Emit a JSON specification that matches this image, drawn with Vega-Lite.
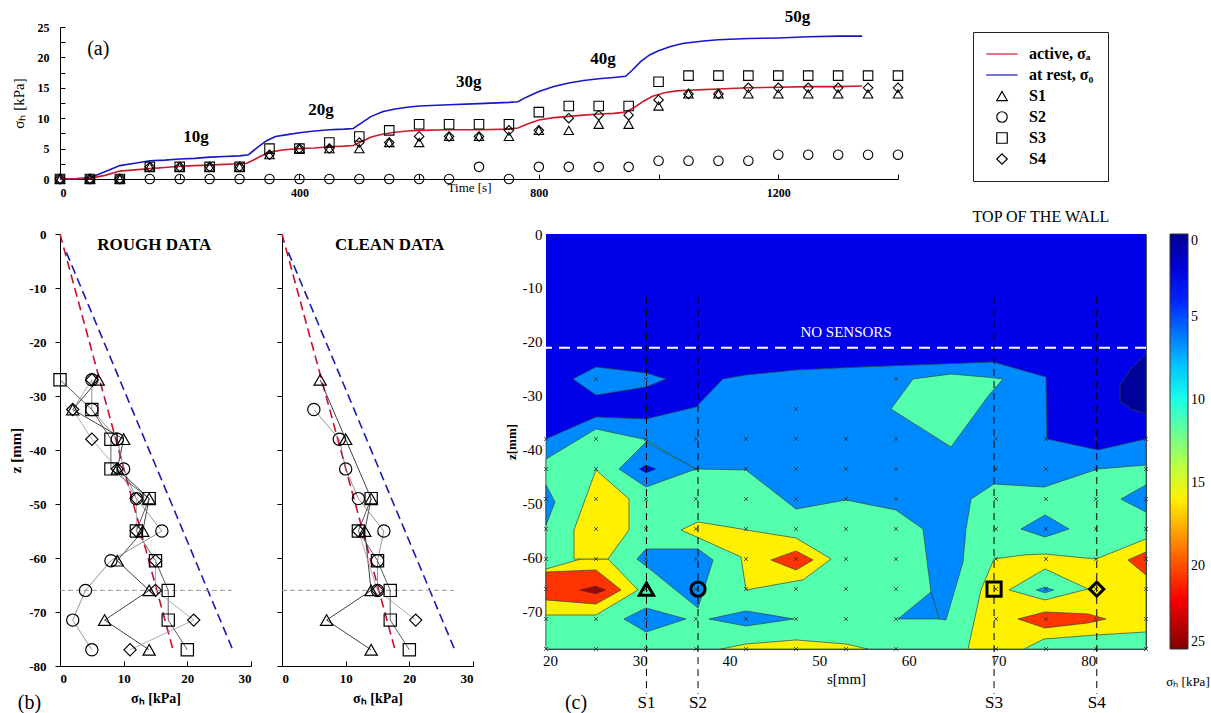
{
"$schema":"https://vega.github.io/schema/vega-lite/v6.json",
"background":"white",
"padding":{"left":8,"top":8,"right":2,"bottom":0},
"bounds":"flush",
"spacing":55,
"config":{
 "font":"Liberation Serif",
 "view":{"stroke":null},
 "axis":{"grid":false,"domainColor":"#000","tickColor":"#000","labelColor":"#000","titleColor":"#000","labelFont":"Liberation Serif","titleFont":"Liberation Serif","labelOverlap":false},
 "legend":{"labelFont":"Liberation Serif","titleFont":"Liberation Serif","labelColor":"#000","titleColor":"#000"},
 "text":{"font":"Liberation Serif","color":"#000"}
},
"resolve":{"scale":{"color":"independent","shape":"independent"},"legend":{"color":"independent","shape":"independent"}},
"datasets":{
 "aL":[
  {"k":"a","t":0,"v":0},{"k":"a","t":25,"v":0.05},{"k":"a","t":50,"v":0.1},{"k":"a","t":75,"v":0.6},{"k":"a","t":100,"v":1.3},{"k":"a","t":125,"v":1.5},{"k":"a","t":150,"v":1.7},{"k":"a","t":175,"v":1.9},{"k":"a","t":200,"v":2.1},{"k":"a","t":225,"v":2.2},{"k":"a","t":250,"v":2.3},{"k":"a","t":275,"v":2.4},{"k":"a","t":300,"v":2.5},{"k":"a","t":312,"v":2.6},{"k":"a","t":325,"v":3.2},{"k":"a","t":340,"v":4.0},{"k":"a","t":355,"v":4.5},{"k":"a","t":375,"v":4.8},{"k":"a","t":400,"v":5.0},{"k":"a","t":425,"v":5.1},{"k":"a","t":450,"v":5.3},{"k":"a","t":475,"v":5.4},{"k":"a","t":490,"v":5.5},{"k":"a","t":505,"v":6.2},{"k":"a","t":520,"v":6.9},{"k":"a","t":540,"v":7.4},{"k":"a","t":560,"v":7.7},{"k":"a","t":580,"v":7.9},{"k":"a","t":600,"v":8.0},{"k":"a","t":650,"v":8.1},{"k":"a","t":700,"v":8.1},{"k":"a","t":750,"v":8.2},{"k":"a","t":765,"v":8.4},{"k":"a","t":780,"v":9.0},{"k":"a","t":800,"v":9.7},{"k":"a","t":825,"v":10.1},{"k":"a","t":850,"v":10.3},{"k":"a","t":875,"v":10.5},{"k":"a","t":900,"v":10.7},{"k":"a","t":925,"v":10.8},{"k":"a","t":945,"v":11.0},{"k":"a","t":960,"v":11.8},{"k":"a","t":975,"v":12.8},{"k":"a","t":990,"v":13.6},{"k":"a","t":1010,"v":14.2},{"k":"a","t":1030,"v":14.5},{"k":"a","t":1050,"v":14.6},{"k":"a","t":1075,"v":14.7},{"k":"a","t":1100,"v":14.8},{"k":"a","t":1150,"v":15.0},{"k":"a","t":1200,"v":15.1},{"k":"a","t":1250,"v":15.2},{"k":"a","t":1300,"v":15.2},{"k":"a","t":1340,"v":15.3},
  {"k":"r","t":0,"v":0},{"k":"r","t":25,"v":0.05},{"k":"r","t":50,"v":0.2},{"k":"r","t":75,"v":1.2},{"k":"r","t":100,"v":2.2},{"k":"r","t":125,"v":2.6},{"k":"r","t":150,"v":3.0},{"k":"r","t":175,"v":3.1},{"k":"r","t":200,"v":3.3},{"k":"r","t":225,"v":3.4},{"k":"r","t":250,"v":3.6},{"k":"r","t":275,"v":3.7},{"k":"r","t":300,"v":3.8},{"k":"r","t":315,"v":4.0},{"k":"r","t":330,"v":5.2},{"k":"r","t":345,"v":6.3},{"k":"r","t":360,"v":7.0},{"k":"r","t":380,"v":7.3},{"k":"r","t":400,"v":7.6},{"k":"r","t":425,"v":7.9},{"k":"r","t":450,"v":8.1},{"k":"r","t":475,"v":8.2},{"k":"r","t":490,"v":8.3},{"k":"r","t":505,"v":9.3},{"k":"r","t":520,"v":10.3},{"k":"r","t":540,"v":11.1},{"k":"r","t":560,"v":11.5},{"k":"r","t":580,"v":11.8},{"k":"r","t":600,"v":12.0},{"k":"r","t":650,"v":12.2},{"k":"r","t":700,"v":12.4},{"k":"r","t":750,"v":12.6},{"k":"r","t":765,"v":12.7},{"k":"r","t":780,"v":13.5},{"k":"r","t":800,"v":14.4},{"k":"r","t":825,"v":15.2},{"k":"r","t":850,"v":15.8},{"k":"r","t":875,"v":16.2},{"k":"r","t":900,"v":16.5},{"k":"r","t":925,"v":16.7},{"k":"r","t":945,"v":16.9},{"k":"r","t":955,"v":17.8},{"k":"r","t":970,"v":19.3},{"k":"r","t":985,"v":20.4},{"k":"r","t":1000,"v":21.1},{"k":"r","t":1020,"v":21.8},{"k":"r","t":1040,"v":22.3},{"k":"r","t":1075,"v":22.7},{"k":"r","t":1100,"v":22.9},{"k":"r","t":1150,"v":23.1},{"k":"r","t":1200,"v":23.2},{"k":"r","t":1250,"v":23.4},{"k":"r","t":1300,"v":23.5},{"k":"r","t":1340,"v":23.5}
 ],
 "aP":[
  {"s":"S1","t":0,"v":0},{"s":"S1","t":50,"v":0},{"s":"S1","t":100,"v":0},{"s":"S1","t":150,"v":2},{"s":"S1","t":200,"v":2},{"s":"S1","t":250,"v":2},{"s":"S1","t":300,"v":2},{"s":"S1","t":350,"v":4},{"s":"S1","t":400,"v":5},{"s":"S1","t":450,"v":5},{"s":"S1","t":500,"v":5},{"s":"S1","t":550,"v":6},{"s":"S1","t":600,"v":6},{"s":"S1","t":650,"v":7},{"s":"S1","t":700,"v":7},{"s":"S1","t":750,"v":7},{"s":"S1","t":800,"v":8},{"s":"S1","t":850,"v":8},{"s":"S1","t":900,"v":9},{"s":"S1","t":950,"v":9},{"s":"S1","t":1000,"v":12},{"s":"S1","t":1050,"v":14},{"s":"S1","t":1100,"v":14},{"s":"S1","t":1150,"v":14},{"s":"S1","t":1200,"v":14},{"s":"S1","t":1250,"v":14},{"s":"S1","t":1300,"v":14},{"s":"S1","t":1350,"v":14},{"s":"S1","t":1400,"v":14},
  {"s":"S2","t":0,"v":0},{"s":"S2","t":50,"v":0},{"s":"S2","t":100,"v":0},{"s":"S2","t":150,"v":0},{"s":"S2","t":200,"v":0},{"s":"S2","t":250,"v":0},{"s":"S2","t":300,"v":0},{"s":"S2","t":350,"v":0},{"s":"S2","t":400,"v":0},{"s":"S2","t":450,"v":0},{"s":"S2","t":500,"v":0},{"s":"S2","t":550,"v":0},{"s":"S2","t":600,"v":0},{"s":"S2","t":650,"v":0},{"s":"S2","t":700,"v":2},{"s":"S2","t":750,"v":0},{"s":"S2","t":800,"v":2},{"s":"S2","t":850,"v":2},{"s":"S2","t":900,"v":2},{"s":"S2","t":950,"v":2},{"s":"S2","t":1000,"v":3},{"s":"S2","t":1050,"v":3},{"s":"S2","t":1100,"v":3},{"s":"S2","t":1150,"v":3},{"s":"S2","t":1200,"v":4},{"s":"S2","t":1250,"v":4},{"s":"S2","t":1300,"v":4},{"s":"S2","t":1350,"v":4},{"s":"S2","t":1400,"v":4},
  {"s":"S3","t":0,"v":0},{"s":"S3","t":50,"v":0},{"s":"S3","t":100,"v":0},{"s":"S3","t":150,"v":2},{"s":"S3","t":200,"v":2},{"s":"S3","t":250,"v":2},{"s":"S3","t":300,"v":2},{"s":"S3","t":350,"v":5},{"s":"S3","t":400,"v":5},{"s":"S3","t":450,"v":6},{"s":"S3","t":500,"v":7},{"s":"S3","t":550,"v":8},{"s":"S3","t":600,"v":9},{"s":"S3","t":650,"v":9},{"s":"S3","t":700,"v":9},{"s":"S3","t":750,"v":9},{"s":"S3","t":800,"v":11},{"s":"S3","t":850,"v":12},{"s":"S3","t":900,"v":12},{"s":"S3","t":950,"v":12},{"s":"S3","t":1000,"v":16},{"s":"S3","t":1050,"v":17},{"s":"S3","t":1100,"v":17},{"s":"S3","t":1150,"v":17},{"s":"S3","t":1200,"v":17},{"s":"S3","t":1250,"v":17},{"s":"S3","t":1300,"v":17},{"s":"S3","t":1350,"v":17},{"s":"S3","t":1400,"v":17},
  {"s":"S4","t":0,"v":0},{"s":"S4","t":50,"v":0},{"s":"S4","t":100,"v":0},{"s":"S4","t":150,"v":2},{"s":"S4","t":200,"v":2},{"s":"S4","t":250,"v":2},{"s":"S4","t":300,"v":2},{"s":"S4","t":350,"v":4},{"s":"S4","t":400,"v":5},{"s":"S4","t":450,"v":5},{"s":"S4","t":500,"v":6},{"s":"S4","t":550,"v":6},{"s":"S4","t":600,"v":7},{"s":"S4","t":650,"v":7},{"s":"S4","t":700,"v":7},{"s":"S4","t":750,"v":8},{"s":"S4","t":800,"v":8},{"s":"S4","t":850,"v":10},{"s":"S4","t":900,"v":10.5},{"s":"S4","t":950,"v":10.5},{"s":"S4","t":1000,"v":13},{"s":"S4","t":1050,"v":14},{"s":"S4","t":1100,"v":14},{"s":"S4","t":1150,"v":15},{"s":"S4","t":1200,"v":15},{"s":"S4","t":1250,"v":15},{"s":"S4","t":1300,"v":15},{"s":"S4","t":1350,"v":15},{"s":"S4","t":1400,"v":15}
 ],
 "aT":[{"t":227,"v":6.9,"txt":"10g"},{"t":436,"v":11.3,"txt":"20g"},{"t":683,"v":16,"txt":"30g"},{"t":907,"v":19.7,"txt":"40g"},{"t":1232,"v":26.6,"txt":"50g"}],
 "bT":[{"k":"a","x":0,"z":0},{"k":"a","x":17.8,"z":-77.2},{"k":"r","x":1.0,"z":-3.4},{"k":"r","x":27.2,"z":-77.2},{"k":"g","x":0,"z":-66},{"k":"g","x":27,"z":-66}],
 "bR":[
  {"s":"S1","x":6,"z":-27},{"s":"S1","x":2,"z":-32.5},{"s":"S1","x":10,"z":-38},{"s":"S1","x":9,"z":-43.5},{"s":"S1","x":14,"z":-49},{"s":"S1","x":13,"z":-55},{"s":"S1","x":9,"z":-60.5},{"s":"S1","x":14,"z":-66},{"s":"S1","x":7,"z":-71.5},{"s":"S1","x":14,"z":-77},
  {"s":"S2","x":5,"z":-27},{"s":"S2","x":5,"z":-32.5},{"s":"S2","x":9,"z":-38},{"s":"S2","x":10,"z":-43.5},{"s":"S2","x":12,"z":-49},{"s":"S2","x":16,"z":-55},{"s":"S2","x":8,"z":-60.5},{"s":"S2","x":4,"z":-66},{"s":"S2","x":2,"z":-71.5},{"s":"S2","x":5,"z":-77},
  {"s":"S3","x":0,"z":-27},{"s":"S3","x":5,"z":-32.5},{"s":"S3","x":8,"z":-38},{"s":"S3","x":8,"z":-43.5},{"s":"S3","x":14,"z":-49},{"s":"S3","x":12,"z":-55},{"s":"S3","x":15,"z":-60.5},{"s":"S3","x":17,"z":-66},{"s":"S3","x":17,"z":-71.5},{"s":"S3","x":20,"z":-77},
  {"s":"S4","x":5,"z":-27},{"s":"S4","x":2,"z":-32.5},{"s":"S4","x":5,"z":-38},{"s":"S4","x":9,"z":-43.5},{"s":"S4","x":12,"z":-49},{"s":"S4","x":12,"z":-55},{"s":"S4","x":15,"z":-60.5},{"s":"S4","x":15,"z":-66},{"s":"S4","x":21,"z":-71.5},{"s":"S4","x":11,"z":-77}
 ],
 "bC":[
  {"s":"S1","x":6,"z":-27},{"s":"S1","x":10,"z":-38},{"s":"S1","x":14,"z":-49},{"s":"S1","x":13,"z":-55},{"s":"S1","x":14,"z":-66},{"s":"S1","x":7,"z":-71.5},{"s":"S1","x":14,"z":-77},
  {"s":"S2","x":5,"z":-32.5},{"s":"S2","x":9,"z":-38},{"s":"S2","x":10,"z":-43.5},{"s":"S2","x":12,"z":-49},{"s":"S2","x":16,"z":-55},{"s":"S2","x":15,"z":-60.5},{"s":"S2","x":15,"z":-66},
  {"s":"S3","x":14,"z":-49},{"s":"S3","x":12,"z":-55},{"s":"S3","x":15,"z":-60.5},{"s":"S3","x":17,"z":-66},{"s":"S3","x":17,"z":-71.5},{"s":"S3","x":20,"z":-77},
  {"s":"S4","x":12,"z":-55},{"s":"S4","x":15,"z":-66},{"s":"S4","x":21,"z":-71.5}
 ],
 "cA":[
  {"L":0,"g":"d0","v":2.5,"s":19.55,"t":0,"b":-77},{"L":0,"g":"d0","v":2.5,"s":86.44,"t":0,"b":-77},
  {"L":1,"g":"b1","v":6.5,"s":19.55,"t":-38.03,"b":-77},{"L":1,"g":"b1","v":6.5,"s":25.12,"t":-33.95,"b":-77},{"L":1,"g":"b1","v":6.5,"s":30.70,"t":-34.32,"b":-77},{"L":1,"g":"b1","v":6.5,"s":36.27,"t":-32.10,"b":-77},{"L":1,"g":"b1","v":6.5,"s":39.28,"t":-26.90,"b":-77},{"L":1,"g":"b1","v":6.5,"s":41.85,"t":-26.16,"b":-77},{"L":1,"g":"b1","v":6.5,"s":47.42,"t":-25.23,"b":-77},{"L":1,"g":"b1","v":6.5,"s":54.67,"t":-24.68,"b":-77},{"L":1,"g":"b1","v":6.5,"s":63.59,"t":-24.12,"b":-77},{"L":1,"g":"b1","v":6.5,"s":69.38,"t":-23.75,"b":-77},{"L":1,"g":"b1","v":6.5,"s":75.29,"t":-26.53,"b":-77},{"L":1,"g":"b1","v":6.5,"s":75.40,"t":-38.03,"b":-77},{"L":1,"g":"b1","v":6.5,"s":81.09,"t":-40.07,"b":-77},{"L":1,"g":"b1","v":6.5,"s":86.44,"t":-38.03,"b":-77},
  {"L":1,"g":"b2","v":6.5,"s":22.56,"t":-26.90,"b":-26.90},{"L":1,"g":"b2","v":6.5,"s":25.12,"t":-24.68,"b":-29.87},{"L":1,"g":"b2","v":6.5,"s":30.70,"t":-25.79,"b":-28.39},{"L":1,"g":"b2","v":6.5,"s":32.93,"t":-26.90,"b":-26.90},
  {"L":1,"g":"n1","v":0.3,"s":83.54,"t":-28.0,"b":-31.0},{"L":1,"g":"n1","v":0.3,"s":84.77,"t":-25.0,"b":-32.5},{"L":1,"g":"n1","v":0.3,"s":86.44,"t":-22.3,"b":-33.4},
  {"L":2,"g":"c1","v":11.4,"s":19.55,"t":-41.74,"b":-77},{"L":2,"g":"c1","v":11.4,"s":25.12,"t":-36.18,"b":-77},{"L":2,"g":"c1","v":11.4,"s":30.36,"t":-38.03,"b":-77},{"L":2,"g":"c1","v":11.4,"s":36.27,"t":-43.60,"b":-77},{"L":2,"g":"c1","v":11.4,"s":41.85,"t":-43.78,"b":-77},{"L":2,"g":"c1","v":11.4,"s":47.42,"t":-51.02,"b":-77},{"L":2,"g":"c1","v":11.4,"s":52.99,"t":-49.35,"b":-77},{"L":2,"g":"c1","v":11.4,"s":58.57,"t":-51.21,"b":-77},{"L":2,"g":"c1","v":11.4,"s":61.58,"t":-54.73,"b":-77},{"L":2,"g":"c1","v":11.4,"s":62.47,"t":-66.42,"b":-77},{"L":2,"g":"c1","v":11.4,"s":63.36,"t":-71.43,"b":-77},{"L":2,"g":"c1","v":11.4,"s":64.14,"t":-71.61,"b":-77},{"L":2,"g":"c1","v":11.4,"s":66.04,"t":-60.85,"b":-77},{"L":2,"g":"c1","v":11.4,"s":66.37,"t":-54.73,"b":-77},{"L":2,"g":"c1","v":11.4,"s":66.93,"t":-49.17,"b":-77},{"L":2,"g":"c1","v":11.4,"s":69.49,"t":-46.38,"b":-77},{"L":2,"g":"c1","v":11.4,"s":75.07,"t":-46.94,"b":-77},{"L":2,"g":"c1","v":11.4,"s":81.09,"t":-43.60,"b":-77},{"L":2,"g":"c1","v":11.4,"s":86.44,"t":-42.86,"b":-77},
  {"L":2,"g":"c2","v":11.4,"s":58.01,"t":-32.47,"b":-32.47},{"L":2,"g":"c2","v":11.4,"s":60.46,"t":-26.90,"b":-35.05},{"L":2,"g":"c2","v":11.4,"s":64.70,"t":-25.97,"b":-39.52},{"L":2,"g":"c2","v":11.4,"s":68.94,"t":-26.6,"b":-29.87},{"L":2,"g":"c2","v":11.4,"s":70.50,"t":-26.90,"b":-26.90},
  {"L":3,"g":"e1","v":6.5,"s":27.69,"t":-43.60,"b":-43.60},{"L":3,"g":"e1","v":6.5,"s":30.70,"t":-38.59,"b":-46.94},{"L":3,"g":"e1","v":6.5,"s":36.27,"t":-43.60,"b":-43.60},
  {"L":3,"g":"e2","v":6.5,"s":19.55,"t":-46.57,"b":-53.99},{"L":3,"g":"e2","v":6.5,"s":20.55,"t":-49.72,"b":-49.72},
  {"L":3,"g":"e3","v":6.5,"s":28.25,"t":-71.43,"b":-71.43},{"L":3,"g":"e3","v":6.5,"s":30.70,"t":-69.39,"b":-73.84},{"L":3,"g":"e3","v":6.5,"s":35.16,"t":-71.43,"b":-71.43},
  {"L":3,"g":"e4","v":6.5,"s":37.72,"t":-71.43,"b":-71.43},{"L":3,"g":"e4","v":6.5,"s":41.85,"t":-69.94,"b":-72.73},{"L":3,"g":"e4","v":6.5,"s":47.20,"t":-71.43,"b":-71.43},
  {"L":3,"g":"e5","v":6.5,"s":29.69,"t":-60.30,"b":-60.30},{"L":3,"g":"e5","v":6.5,"s":30.70,"t":-58.44,"b":-61.60},{"L":3,"g":"e5","v":6.5,"s":36.50,"t":-58.44,"b":-69.39},{"L":3,"g":"e5","v":6.5,"s":38.17,"t":-60.48,"b":-60.48},
  {"L":3,"g":"e6","v":6.5,"s":72.50,"t":-54.73,"b":-54.73},{"L":3,"g":"e6","v":6.5,"s":75.18,"t":-52.13,"b":-56.22},{"L":3,"g":"e6","v":6.5,"s":77.86,"t":-54.73,"b":-54.73},
  {"L":3,"g":"e7","v":6.5,"s":83.65,"t":-49.17,"b":-49.17},{"L":3,"g":"e7","v":6.5,"s":86.44,"t":-46.57,"b":-51.58},
  {"L":3,"g":"e8","v":6.5,"s":58.79,"t":-71.43,"b":-71.43},{"L":3,"g":"e8","v":6.5,"s":62.47,"t":-66.42,"b":-71.43},{"L":3,"g":"e8","v":6.5,"s":63.36,"t":-71.43,"b":-71.43},
  {"L":4,"g":"y1","v":16,"s":19.55,"t":-62.15,"b":-70.69},{"L":4,"g":"y1","v":16,"s":23.45,"t":-60.30,"b":-70.69},{"L":4,"g":"y1","v":16,"s":25.12,"t":-60.30,"b":-70.69},{"L":4,"g":"y1","v":16,"s":26.46,"t":-60.30,"b":-69.37},{"L":4,"g":"y1","v":16,"s":29.81,"t":-66.05,"b":-66.05},
  {"L":4,"g":"y2","v":16,"s":22.67,"t":-54.92,"b":-60.30},{"L":4,"g":"y2","v":16,"s":25.12,"t":-43.78,"b":-60.30},{"L":4,"g":"y2","v":16,"s":26.46,"t":-45.73,"b":-60.30},{"L":4,"g":"y2","v":16,"s":28.80,"t":-49.17,"b":-54.92},
  {"L":4,"g":"y3","v":16,"s":34.60,"t":-54.92,"b":-54.92},{"L":4,"g":"y3","v":16,"s":36.50,"t":-53.43,"b":-56.33},{"L":4,"g":"y3","v":16,"s":41.29,"t":-54.73,"b":-59.93},{"L":4,"g":"y3","v":16,"s":41.85,"t":-54.92,"b":-66.05},{"L":4,"g":"y3","v":16,"s":47.42,"t":-56.40,"b":-64.4},{"L":4,"g":"y3","v":16,"s":48.20,"t":-57.18,"b":-64.19},{"L":4,"g":"y3","v":16,"s":51.32,"t":-60.30,"b":-60.30},
  {"L":4,"g":"y4","v":16,"s":39.06,"t":-77,"b":-77},{"L":4,"g":"y4","v":16,"s":41.85,"t":-76.07,"b":-77},{"L":4,"g":"y4","v":16,"s":47.42,"t":-75.32,"b":-77},{"L":4,"g":"y4","v":16,"s":52.99,"t":-76.07,"b":-77},{"L":4,"g":"y4","v":16,"s":55.45,"t":-77,"b":-77},
  {"L":4,"g":"y5","v":16,"s":66.60,"t":-77,"b":-77},{"L":4,"g":"y5","v":16,"s":68.04,"t":-66.05,"b":-77},{"L":4,"g":"y5","v":16,"s":69.49,"t":-60.30,"b":-77},{"L":4,"g":"y5","v":16,"s":72.84,"t":-59.55,"b":-77},{"L":4,"g":"y5","v":16,"s":75.07,"t":-59.37,"b":-75.14},{"L":4,"g":"y5","v":16,"s":80.87,"t":-60.30,"b":-74.40},{"L":4,"g":"y5","v":16,"s":86.44,"t":-56.59,"b":-73.84},
  {"L":5,"g":"r1","v":20.6,"s":19.55,"t":-62.71,"b":-67.90},{"L":5,"g":"r1","v":20.6,"s":25.12,"t":-62.34,"b":-68.65},{"L":5,"g":"r1","v":20.6,"s":27.91,"t":-66.05,"b":-66.05},
  {"L":5,"g":"r2","v":20.6,"s":44.63,"t":-60.48,"b":-60.48},{"L":5,"g":"r2","v":20.6,"s":47.42,"t":-58.81,"b":-62.34},{"L":5,"g":"r2","v":20.6,"s":49.32,"t":-60.48,"b":-60.48},
  {"L":5,"g":"r3","v":20.6,"s":72.17,"t":-71.43,"b":-71.43},{"L":5,"g":"r3","v":20.6,"s":75.18,"t":-70.13,"b":-73.10},{"L":5,"g":"r3","v":20.6,"s":79.97,"t":-70.5,"b":-72.17},{"L":5,"g":"r3","v":20.6,"s":81.98,"t":-71.43,"b":-71.43},
  {"L":5,"g":"r4","v":20.6,"s":84.43,"t":-60.48,"b":-60.48},{"L":5,"g":"r4","v":20.6,"s":86.44,"t":-58.99,"b":-63.27},
  {"L":5,"g":"a1","v":11.4,"s":71.17,"t":-66.05,"b":-66.05},{"L":5,"g":"a1","v":11.4,"s":75.18,"t":-62.15,"b":-67.90},{"L":5,"g":"a1","v":11.4,"s":79.97,"t":-65.86,"b":-65.86},
  {"L":6,"g":"k1","v":24,"s":23.23,"t":-66.05,"b":-66.05},{"L":6,"g":"k1","v":24,"s":25.12,"t":-65.3,"b":-66.8},{"L":6,"g":"k1","v":24,"s":26.23,"t":-66.05,"b":-66.05},
  {"L":6,"g":"k2","v":2.5,"s":29.92,"t":-43.60,"b":-43.60},{"L":6,"g":"k2","v":2.5,"s":30.70,"t":-42.86,"b":-44.34},{"L":6,"g":"k2","v":2.5,"s":31.81,"t":-43.60,"b":-43.60},
  {"L":6,"g":"k3","v":6.5,"s":74.18,"t":-66.05,"b":-66.05},{"L":6,"g":"k3","v":6.5,"s":75.18,"t":-65.5,"b":-66.6},{"L":6,"g":"k3","v":6.5,"s":76.18,"t":-66.05,"b":-66.05}
 ],
 "cG":[
  {"s":25.12,"z":-26.9},{"s":30.70,"z":-26.9},{"s":58.57,"z":-26.9},{"s":47.42,"z":-32.47},
  {"s":19.55,"z":-38.03},{"s":25.12,"z":-38.03},{"s":30.70,"z":-38.03},{"s":36.27,"z":-38.03},{"s":41.85,"z":-38.03},{"s":47.42,"z":-38.03},{"s":52.99,"z":-38.03},{"s":58.57,"z":-38.03},{"s":69.72,"z":-38.03},{"s":75.29,"z":-38.03},{"s":80.87,"z":-38.03},{"s":86.44,"z":-38.03},
  {"s":19.55,"z":-43.6},{"s":25.12,"z":-43.6},{"s":30.70,"z":-43.6},{"s":36.27,"z":-43.6},{"s":41.85,"z":-43.6},{"s":47.42,"z":-43.6},{"s":52.99,"z":-43.6},{"s":58.57,"z":-43.6},{"s":69.72,"z":-43.6},{"s":75.29,"z":-43.6},{"s":80.87,"z":-43.6},{"s":86.44,"z":-43.6},
  {"s":19.55,"z":-49.17},{"s":25.12,"z":-49.17},{"s":30.70,"z":-49.17},{"s":36.27,"z":-49.17},{"s":41.85,"z":-49.17},{"s":47.42,"z":-49.17},{"s":52.99,"z":-49.17},{"s":58.57,"z":-49.17},{"s":69.72,"z":-49.17},{"s":75.29,"z":-49.17},{"s":80.87,"z":-49.17},{"s":86.44,"z":-49.17},
  {"s":19.55,"z":-54.73},{"s":25.12,"z":-54.73},{"s":30.70,"z":-54.73},{"s":36.27,"z":-54.73},{"s":41.85,"z":-54.73},{"s":47.42,"z":-54.73},{"s":52.99,"z":-54.73},{"s":58.57,"z":-54.73},{"s":69.72,"z":-54.73},{"s":75.29,"z":-54.73},{"s":80.87,"z":-54.73},{"s":86.44,"z":-54.73},
  {"s":19.55,"z":-60.3},{"s":25.12,"z":-60.3},{"s":30.70,"z":-60.3},{"s":36.27,"z":-60.3},{"s":41.85,"z":-60.3},{"s":47.42,"z":-60.3},{"s":52.99,"z":-60.3},{"s":58.57,"z":-60.3},{"s":69.72,"z":-60.3},{"s":75.29,"z":-60.3},{"s":80.87,"z":-60.3},{"s":86.44,"z":-60.3},
  {"s":19.55,"z":-65.86},{"s":25.12,"z":-65.86},{"s":30.70,"z":-65.86},{"s":36.27,"z":-65.86},{"s":41.85,"z":-65.86},{"s":47.42,"z":-65.86},{"s":52.99,"z":-65.86},{"s":58.57,"z":-65.86},{"s":69.72,"z":-65.86},{"s":75.29,"z":-65.86},{"s":80.87,"z":-65.86},{"s":86.44,"z":-65.86},
  {"s":19.55,"z":-71.43},{"s":25.12,"z":-71.43},{"s":30.70,"z":-71.43},{"s":36.27,"z":-71.43},{"s":41.85,"z":-71.43},{"s":47.42,"z":-71.43},{"s":52.99,"z":-71.43},{"s":58.57,"z":-71.43},{"s":69.72,"z":-71.43},{"s":75.29,"z":-71.43},{"s":80.87,"z":-71.43},{"s":86.44,"z":-71.43},
  {"s":19.55,"z":-77},{"s":25.12,"z":-77},{"s":30.70,"z":-77},{"s":36.27,"z":-77},{"s":41.85,"z":-77},{"s":47.42,"z":-77},{"s":52.99,"z":-77},{"s":58.57,"z":-77},{"s":69.72,"z":-77},{"s":75.29,"z":-77},{"s":80.87,"z":-77},{"s":86.44,"z":-77}
 ],
 "cR":[{"k":"S1","s":30.75,"z1":-11.7,"z2":-85.3,"zl":-87.0,"zs":-65.9},{"k":"S2","s":36.5,"z1":-11.7,"z2":-85.3,"zl":-87.0,"zs":-65.9},{"k":"S3","s":69.5,"z1":-11.7,"z2":-85.3,"zl":-87.0,"zs":-65.9},{"k":"S4","s":80.95,"z1":-11.7,"z2":-85.3,"zl":-87.0,"zs":-65.9}],
 "cW":[{"z":-21.1}]
},
"vconcat":[
 {
  "width":838,"height":152,
  "encoding":{
   "x":{"field":"t","type":"quantitative","scale":{"domain":[0,1400],"nice":false},"axis":{"values":[0,200,400,600,800,1000,1200,1400],"labelExpr":"datum.value % 400 === 0 ? '' + datum.value : ''","labelOverlap":false,"tickSize":-5,"labelPadding":13,"labelFontSize":12,"labelFontWeight":"bold","title":"Time [s]","titleFontSize":13,"titleFontWeight":"normal","titleX":409,"titleY":8,"titleBaseline":"middle"}},
   "y":{"field":"v","type":"quantitative","scale":{"domain":[0,25],"nice":false},"axis":{"values":[0,2.5,5,7.5,10,12.5,15,17.5,20,22.5,25],"labelExpr":"datum.value % 5 === 0 ? '' + datum.value : ''","labelOverlap":false,"tickSize":-5,"labelPadding":16,"labelFontSize":12,"labelFontWeight":"bold","title":"σₕ [kPa]","titleFontSize":15,"titleFontWeight":"normal","titlePadding":11}}
  },
  "layer":[
   {"data":{"name":"aL"},"transform":[{"filter":"datum.k === 'r'"}],"mark":{"type":"line","color":"#1616c8","strokeWidth":1.6}},
   {"data":{"name":"aL"},"transform":[{"filter":"datum.k === 'a'"}],"mark":{"type":"line","color":"#cc1a2a","strokeWidth":1.6}},
   {"data":{"name":"aP"},"mark":{"type":"point","filled":false,"size":90,"strokeWidth":1.1,"opacity":1},
    "encoding":{
     "shape":{"field":"s","type":"nominal","scale":{"domain":["active, σₐ","at rest, σ₀","S1","S2","S3","S4"],"range":["M-3,0H3","M-3,0H3","triangle-up","circle","square","diamond"]},
      "legend":{"title":null,"orient":"none","legendX":913,"legendY":5,"strokeColor":"#222","fillColor":"white","padding":14,"rowPadding":5,"labelFontSize":16,"labelFontWeight":"bold","symbolSize":110,"symbolOffset":7,"labelOffset":19,"symbolStrokeWidth":1.2}},
     "color":{"field":"s","type":"nominal","scale":{"domain":["active, σₐ","at rest, σ₀","S1","S2","S3","S4"],"range":["#cc1a2a","#1616c8","#000000","#000000","#000000","#000000"]},
      "legend":{"title":null,"orient":"none","legendX":913,"legendY":5,"strokeColor":"#222","fillColor":"white","padding":14,"rowPadding":5,"labelFontSize":16,"labelFontWeight":"bold","symbolSize":110,"symbolOffset":7,"labelOffset":19,"symbolStrokeWidth":1.2}}}},
   {"data":{"name":"aT"},"mark":{"type":"text","fontSize":17,"fontWeight":"bold"},
    "encoding":{"text":{"field":"txt"}}},
   {"data":{"values":[{"t":64,"v":21.4,"txt":"(a)"}]},"mark":{"type":"text","fontSize":20},
    "encoding":{"text":{"field":"txt"}}}
  ]
 },
 {
  "bounds":"flush","spacing":31,
  "resolve":{"scale":{"color":"independent","shape":"independent"},"legend":{"color":"independent","shape":"independent"}},
  "hconcat":[
     {"width":191,"height":432,
      "layer":[
       {"data":{"name":"bT"},"transform":[{"filter":"datum.k === 'a'"}],"mark":{"type":"line","color":"#c8102e","strokeWidth":1.6,"strokeDash":[9,5]},
        "encoding":{"x":{"field":"x","type":"quantitative","scale":{"domain":[0,30],"nice":false},"axis":{"values":[0,10,20,30],"tickSize":-5,"labelPadding":11,"labelFontSize":13,"labelFontWeight":"bold","title":"σₕ [kPa]","titleFontSize":14,"titleFontWeight":"bold","titlePadding":6}},
         "y":{"field":"z","type":"quantitative","scale":{"domain":[-80,0],"nice":false},"axis":{"values":[0,-5,-10,-15,-20,-25,-30,-35,-40,-45,-50,-55,-60,-65,-70,-75,-80],"labelExpr":"datum.value % 10 === 0 ? '' + datum.value : ''","tickSize":5,"labelPadding":9,"labelFontSize":13,"labelFontWeight":"bold","title":"z [mm]","titleFontSize":15,"titleFontWeight":"bold","titlePadding":5}}}},
       {"data":{"name":"bT"},"transform":[{"filter":"datum.k === 'r'"}],"mark":{"type":"line","color":"#1a1ab4","strokeWidth":1.6,"strokeDash":[9,5]},
        "encoding":{"x":{"field":"x","type":"quantitative"},"y":{"field":"z","type":"quantitative"}}},
       {"data":{"name":"bT"},"transform":[{"filter":"datum.k === 'g'"}],"mark":{"type":"line","color":"#999","strokeWidth":1,"strokeDash":[5,3]},
        "encoding":{"x":{"field":"x","type":"quantitative"},"y":{"field":"z","type":"quantitative"}}},
       {"data":{"name":"bR"},"mark":{"type":"line","strokeWidth":0.8},
        "encoding":{"x":{"field":"x","type":"quantitative"},"y":{"field":"z","type":"quantitative"},"color":{"field":"s","type":"nominal","scale":{"domain":["S1","S2","S3","S4"],"range":["#111111","#777777","#333333","#999999"]},"legend":null},"order":{"field":"z","sort":"descending"}}},
       {"data":{"name":"bR"},"mark":{"type":"point","filled":false,"color":"#000","size":150,"strokeWidth":1.2,"opacity":1},
        "encoding":{"x":{"field":"x","type":"quantitative"},"y":{"field":"z","type":"quantitative"},"shape":{"field":"s","type":"nominal","scale":{"domain":["S1","S2","S3","S4"],"range":["triangle-up","circle","square","diamond"]},"legend":null}}},
       {"data":{"values":[{"x":14.8,"z":-2.1,"txt":"ROUGH DATA"}]},"mark":{"type":"text","fontSize":17,"fontWeight":"bold"},
        "encoding":{"x":{"field":"x","type":"quantitative"},"y":{"field":"z","type":"quantitative"},"text":{"field":"txt"}}},
       {"data":{"values":[{"x":-4.8,"z":-86.9,"txt":"(b)"}]},"mark":{"type":"text","fontSize":20},
        "encoding":{"x":{"field":"x","type":"quantitative"},"y":{"field":"z","type":"quantitative"},"text":{"field":"txt"}}}
      ]},
     {"width":191,"height":432,
      "layer":[
       {"data":{"name":"bT"},"transform":[{"filter":"datum.k === 'a'"}],"mark":{"type":"line","color":"#c8102e","strokeWidth":1.6,"strokeDash":[9,5]},
        "encoding":{"x":{"field":"x","type":"quantitative","scale":{"domain":[0,30],"nice":false},"axis":{"values":[0,10,20,30],"tickSize":-5,"labelPadding":11,"labelFontSize":13,"labelFontWeight":"bold","title":"σₕ [kPa]","titleFontSize":14,"titleFontWeight":"bold","titlePadding":6}},
         "y":{"field":"z","type":"quantitative","scale":{"domain":[-80,0],"nice":false},"axis":{"values":[0,-5,-10,-15,-20,-25,-30,-35,-40,-45,-50,-55,-60,-65,-70,-75,-80],"labels":false,"tickSize":5,"title":null}}}},
       {"data":{"name":"bT"},"transform":[{"filter":"datum.k === 'r'"}],"mark":{"type":"line","color":"#1a1ab4","strokeWidth":1.6,"strokeDash":[9,5]},
        "encoding":{"x":{"field":"x","type":"quantitative"},"y":{"field":"z","type":"quantitative"}}},
       {"data":{"name":"bT"},"transform":[{"filter":"datum.k === 'g'"}],"mark":{"type":"line","color":"#999","strokeWidth":1,"strokeDash":[5,3]},
        "encoding":{"x":{"field":"x","type":"quantitative"},"y":{"field":"z","type":"quantitative"}}},
       {"data":{"name":"bC"},"mark":{"type":"line","strokeWidth":0.8},
        "encoding":{"x":{"field":"x","type":"quantitative"},"y":{"field":"z","type":"quantitative"},"color":{"field":"s","type":"nominal","scale":{"domain":["S1","S2","S3","S4"],"range":["#111111","#777777","#333333","#999999"]},"legend":null},"order":{"field":"z","sort":"descending"}}},
       {"data":{"name":"bC"},"mark":{"type":"point","filled":false,"color":"#000","size":150,"strokeWidth":1.2,"opacity":1},
        "encoding":{"x":{"field":"x","type":"quantitative"},"y":{"field":"z","type":"quantitative"},"shape":{"field":"s","type":"nominal","scale":{"domain":["S1","S2","S3","S4"],"range":["triangle-up","circle","square","diamond"]},"legend":null}}},
       {"data":{"values":[{"x":16.9,"z":-2.1,"txt":"CLEAN DATA"}]},"mark":{"type":"text","fontSize":17,"fontWeight":"bold"},
        "encoding":{"x":{"field":"x","type":"quantitative"},"y":{"field":"z","type":"quantitative"},"text":{"field":"txt"}}}
      ]},
   {"width":11,"height":10,"data":{"values":[{"e":""}]},"mark":{"type":"text","opacity":0},"encoding":{"text":{"field":"e"}}},
   {"width":600,"height":415,
    "view":{"stroke":"#555","strokeWidth":1},
    "layer":[
     {"data":{"name":"cA"},"transform":[{"filter":"datum.L === 0"}],"mark":{"type":"area","opacity":1,"strokeWidth":0},
      "encoding":{
       "x":{"field":"s","type":"quantitative","scale":{"domain":[19.55,86.44],"nice":false,"zero":false},"axis":{"values":[20,30,40,50,60,70,80],"tickSize":0,"domain":false,"labelPadding":4,"labelFontSize":15,"title":"s[mm]","titleFontSize":15,"titleFontWeight":"normal","titlePadding":3}},
       "y":{"field":"t","type":"quantitative","stack":null,"scale":{"domain":[-77,0],"nice":false,"zero":false},"axis":{"values":[0,-10,-20,-30,-40,-50,-60,-70],"labelExpr":"'' + datum.value","tickSize":0,"domain":false,"labelPadding":4,"labelFontSize":15,"title":"z[mm]","titleFontSize":13,"titleFontWeight":"bold","titlePadding":4}},
       "y2":{"field":"b"},
       "color":{"field":"v","type":"quantitative","scale":{"domain":[25,21.875,15.625,9.375,3.125,0],"range":["#800000","#ff0000","#ffff00","#00ffff","#0000ff","#00008f"],"interpolate":"rgb"},
        "legend":{"title":"σₕ [kPa]","orient":"none","legendX":620,"legendY":0,"direction":"vertical","gradientLength":415,"gradientThickness":18,"values":[0,5,10,15,20,25],"labelFontSize":14,"titleFontSize":13,"titleFontWeight":"normal","titleOrient":"bottom","titleAnchor":"middle","titleAlign":"center","titlePadding":26,"gradientStrokeColor":"#333","gradientStrokeWidth":1,"labelOffset":3}},
       "detail":{"field":"g","type":"nominal"}}},
     {"data":{"name":"cA"},"transform":[{"filter":"datum.L === 1"}],"mark":{"type":"area","opacity":1,"stroke":"#2a4848","strokeWidth":0.7},
      "encoding":{"x":{"field":"s","type":"quantitative"},"y":{"field":"t","type":"quantitative","stack":null},"y2":{"field":"b"},"color":{"field":"v","type":"quantitative"},"detail":{"field":"g","type":"nominal"}}},
     {"data":{"name":"cA"},"transform":[{"filter":"datum.L === 2"}],"mark":{"type":"area","opacity":1,"stroke":"#2a4848","strokeWidth":0.7},
      "encoding":{"x":{"field":"s","type":"quantitative"},"y":{"field":"t","type":"quantitative","stack":null},"y2":{"field":"b"},"color":{"field":"v","type":"quantitative"},"detail":{"field":"g","type":"nominal"}}},
     {"data":{"name":"cA"},"transform":[{"filter":"datum.L === 3"}],"mark":{"type":"area","opacity":1,"stroke":"#2a4848","strokeWidth":0.7},
      "encoding":{"x":{"field":"s","type":"quantitative"},"y":{"field":"t","type":"quantitative","stack":null},"y2":{"field":"b"},"color":{"field":"v","type":"quantitative"},"detail":{"field":"g","type":"nominal"}}},
     {"data":{"name":"cA"},"transform":[{"filter":"datum.L === 4"}],"mark":{"type":"area","opacity":1,"stroke":"#2a4848","strokeWidth":0.7},
      "encoding":{"x":{"field":"s","type":"quantitative"},"y":{"field":"t","type":"quantitative","stack":null},"y2":{"field":"b"},"color":{"field":"v","type":"quantitative"},"detail":{"field":"g","type":"nominal"}}},
     {"data":{"name":"cA"},"transform":[{"filter":"datum.L === 5"}],"mark":{"type":"area","opacity":1,"stroke":"#2a4848","strokeWidth":0.7},
      "encoding":{"x":{"field":"s","type":"quantitative"},"y":{"field":"t","type":"quantitative","stack":null},"y2":{"field":"b"},"color":{"field":"v","type":"quantitative"},"detail":{"field":"g","type":"nominal"}}},
     {"data":{"name":"cA"},"transform":[{"filter":"datum.L === 6"}],"mark":{"type":"area","opacity":1,"stroke":"#2a4848","strokeWidth":0.5},
      "encoding":{"x":{"field":"s","type":"quantitative"},"y":{"field":"t","type":"quantitative","stack":null},"y2":{"field":"b"},"color":{"field":"v","type":"quantitative"},"detail":{"field":"g","type":"nominal"}}},
     {"data":{"name":"cG"},"mark":{"type":"point","shape":"M-1,-1L1,1M1,-1L-1,1","size":16,"filled":false,"color":"#333","strokeWidth":1,"opacity":0.8},
      "encoding":{"x":{"field":"s","type":"quantitative"},"y":{"field":"z","type":"quantitative"}}},
     {"data":{"name":"cW"},"mark":{"type":"rule","color":"white","strokeWidth":2,"strokeDash":[11,7]},
      "encoding":{"y":{"field":"z","type":"quantitative"}}},
     {"data":{"name":"cR"},"mark":{"type":"rule","color":"#000","strokeWidth":1,"strokeDash":[7,5]},
      "encoding":{"x":{"field":"s","type":"quantitative"},"y":{"field":"z1","type":"quantitative"},"y2":{"field":"z2"}}},
     {"data":{"name":"cR"},"mark":{"type":"point","filled":false,"color":"#000","size":200,"strokeWidth":3,"opacity":1},
      "encoding":{"x":{"field":"s","type":"quantitative"},"y":{"field":"zs","type":"quantitative"},"shape":{"field":"k","type":"nominal","scale":{"domain":["S1","S2","S3","S4"],"range":["triangle-up","circle","square","diamond"]},"legend":null}}},
     {"data":{"name":"cR"},"mark":{"type":"text","fontSize":17},
      "encoding":{"x":{"field":"s","type":"quantitative"},"y":{"field":"zl","type":"quantitative"},"text":{"field":"k"}}},
     {"data":{"values":[{"s":53,"z":-18.2,"txt":"NO SENSORS"}]},"mark":{"type":"text","fontSize":15,"color":"white"},
      "encoding":{"x":{"field":"s","type":"quantitative"},"y":{"field":"z","type":"quantitative"},"text":{"field":"txt"}}},
     {"data":{"values":[{"s":74.73,"z":3.15,"txt":"TOP OF THE WALL"}]},"mark":{"type":"text","fontSize":16,"color":"#000"},
      "encoding":{"x":{"field":"s","type":"quantitative"},"y":{"field":"z","type":"quantitative"},"text":{"field":"txt"}}},
     {"data":{"values":[{"s":22.9,"z":-87.0,"txt":"(c)"}]},"mark":{"type":"text","fontSize":20,"color":"#000"},
      "encoding":{"x":{"field":"s","type":"quantitative"},"y":{"field":"z","type":"quantitative"},"text":{"field":"txt"}}}
    ]}
  ]
 }
]
}
